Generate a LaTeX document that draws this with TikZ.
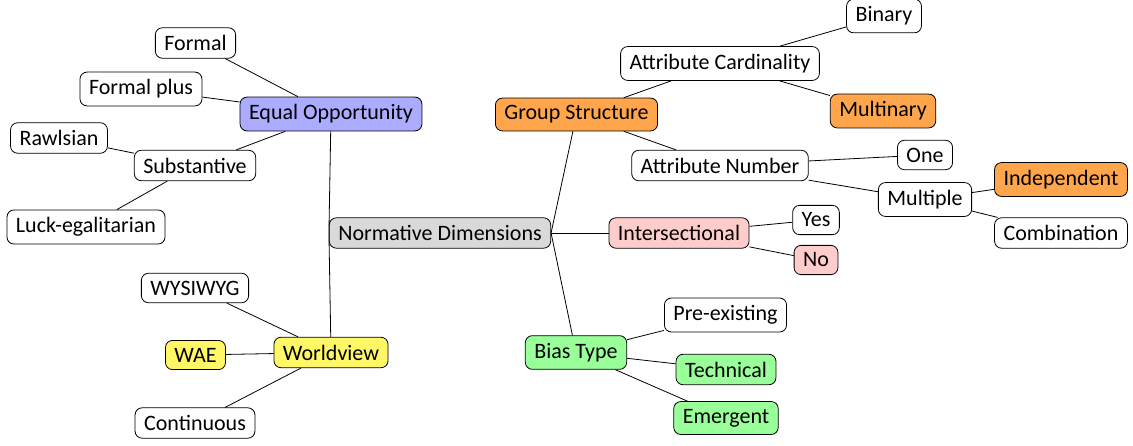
\documentclass[tikz,border=0pt]{standalone}
\usepackage{fontspec}
\setmainfont{Carlito}
\begin{document}
\begin{tikzpicture}[x=1pt,y=-1pt,
  nd/.style={draw=black,line width=0.8pt,rounded corners=7pt,inner xsep=9pt,inner ysep=7.5pt,font=\fontsize{22}{25}\selectfont,fill=white},
  eoc/.style={nd,fill=blue!33},
  gsc/.style={nd,fill=orange!70},
  inc/.style={nd,fill=red!20},
  bic/.style={nd,fill=green!40},
  wvc/.style={nd,fill=yellow!60},
  rtc/.style={nd,fill=gray!30},
  ln/.style={draw=black,line width=0.8pt}]
\useasboundingbox (0,0) rectangle (1133,445);
\node[rtc] (root) at (440,233) {Normative Dimensions};
\node[eoc] (eo) at (331,114) {Equal Opportunity};
\node[nd] (formal) at (195.5,43) {Formal};
\node[nd] (formalplus) at (141,89) {Formal plus};
\node[nd] (subst) at (195,165.5) {Substantive};
\node[nd] (rawls) at (59,138) {Rawlsian};
\node[nd] (luck) at (86,227) {Luck-egalitarian};
\node[wvc] (wv) at (331,352.5) {Worldview};
\node[nd] (wys) at (195,288) {WYSIWYG};
\node[wvc] (wae) at (195.5,355) {WAE};
\node[nd] (cont) at (195,423) {Continuous};
\node[gsc] (gs) at (576.5,114.5) {Group Structure};
\node[nd] (ac) at (720,63.5) {Attribute Cardinality};
\node[nd] (bin) at (884,16) {Binary};
\node[gsc] (mult) at (883,111) {Multinary};
\node[nd] (an) at (720,165.5) {Attribute Number};
\node[nd] (one) at (925,155) {One};
\node[nd] (multi) at (925,199.5) {Multiple};
\node[gsc] (indep) at (1061,179.5) {Independent};
\node[nd] (comb) at (1061,233) {Combination};
\node[inc] (inter) at (679,233) {Intersectional};
\node[nd] (yes) at (816,220) {Yes};
\node[inc] (no) at (816,260) {No};
\node[bic] (bias) at (576,352.5) {Bias Type};
\node[nd] (pre) at (725.5,315) {Pre-existing};
\node[bic] (tech) at (726,369.5) {Technical};
\node[bic] (emer) at (726,418) {Emergent};
\draw[ln] (root.west) -- (eo);
\draw[ln] (root.west) -- (wv);
\draw[ln] (root.east) -- (gs);
\draw[ln] (root.east) -- (inter);
\draw[ln] (root.east) -- (bias);
\draw[ln] (eo) -- (formal);
\draw[ln] (eo) -- (formalplus);
\draw[ln] (eo) -- (subst);
\draw[ln] (subst) -- (rawls);
\draw[ln] (subst) -- (luck);
\draw[ln] (wv) -- (wys);
\draw[ln] (wv) -- (wae);
\draw[ln] (wv) -- (cont);
\draw[ln] (gs) -- (ac);
\draw[ln] (gs) -- (an);
\draw[ln] (ac) -- (bin);
\draw[ln] (ac) -- (mult);
\draw[ln] (an) -- (one);
\draw[ln] (an) -- (multi);
\draw[ln] (multi) -- (indep);
\draw[ln] (multi) -- (comb);
\draw[ln] (inter) -- (yes);
\draw[ln] (inter) -- (no);
\draw[ln] (bias) -- (pre);
\draw[ln] (bias) -- (tech);
\draw[ln] (bias) -- (emer);
\end{tikzpicture}
\end{document}
